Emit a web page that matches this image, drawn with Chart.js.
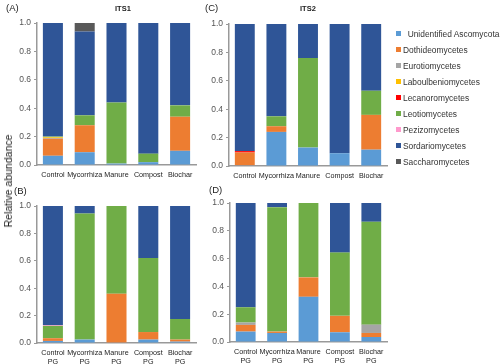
<!DOCTYPE html>
<html>
<head>
<meta charset="utf-8">
<script src="https://cdn.jsdelivr.net/npm/chart.js@4"></script>
<style>
  body { margin: 0; background: #fff; font-family: "Liberation Sans", Arial, sans-serif; }
  #wrap { position: relative; width: 500px; height: 364px; overflow: hidden; }
  .panel { position: absolute; }
  .lbl { position: absolute; font-size: 9.5px; color: #222; }
  .ttl { position: absolute; font-size: 7.5px; font-weight: bold; color: #222; }
  #ytitle { position: absolute; left: 8px; top: 181px; transform: translate(-50%, -50%) rotate(-90deg); font-size: 10.5px; color: #222; white-space: nowrap; }
  #legend { position: absolute; left: 396px; top: 29px; font-size: 8.4px; color: #333; }
  #legend div { height: 16px; line-height: 11px; white-space: nowrap; }
  #legend span { display: inline-block; width: 5px; height: 5px; margin-right: 2px; vertical-align: 1px; }
</style>
</head>
<body>
<div id="wrap">
  <canvas id="cA" class="panel" style="left:0;top:0" width="200" height="190"></canvas>
  <canvas id="cC" class="panel" style="left:195px;top:0" width="195" height="190"></canvas>
  <canvas id="cB" class="panel" style="left:0;top:185px" width="200" height="179"></canvas>
  <canvas id="cD" class="panel" style="left:195px;top:185px" width="195" height="179"></canvas>
  <div class="lbl" style="left:6px;top:2px">(A)</div>
  <div class="lbl" style="left:205px;top:2px">(C)</div>
  <div class="lbl" style="left:14px;top:185px">(B)</div>
  <div class="lbl" style="left:209px;top:184px">(D)</div>
  <div class="ttl" style="left:115px;top:4px">ITS1</div>
  <div class="ttl" style="left:300px;top:4px">ITS2</div>
  <div id="ytitle">Relative abundance</div>
  <div id="legend"></div>
</div>
<script>
// taxonomic classes, bottom of stack first
var classes = ['Unidentified Ascomycota', 'Dothideomycetes', 'Eurotiomycetes', 'Laboulbeniomycetes',
    'Lecanoromycetes', 'Leotiomycetes', 'Pezizomycetes', 'Sordariomycetes', 'Saccharomycetes'];
var colors = ['#5B9BD5', '#ED7D31', '#A5A5A5', '#FFC000', '#FF0000', '#70AD47', '#FF99CC', '#2F5597', '#595959'];

var soilLabels = ['Control', 'Mycorrhiza', 'Manure', 'Compost', 'Biochar'];
var pgLabels = [['Control', 'PG'], ['Mycorrhiza', 'PG'], ['Manure', 'PG'], ['Compost', 'PG'], ['Biochar', 'PG']];
var yTicks = [0, 0.2, 0.4, 0.6, 0.8, 1.0];

// one row per class (same order as classes), one value per treatment
var its1Soil = [
    [0.065, 0.09, 0.01, 0.02, 0.10],
    [0.12, 0.19, 0, 0, 0.24],
    [0.005, 0, 0, 0, 0],
    [0.005, 0, 0, 0, 0],
    [0, 0, 0, 0, 0],
    [0.005, 0.07, 0.43, 0.06, 0.08],
    [0, 0, 0, 0, 0],
    [0.80, 0.59, 0.56, 0.92, 0.58],
    [0, 0.06, 0, 0, 0]
];
var its2Soil = [
    [0.005, 0.24, 0.13, 0.09, 0.115],
    [0.09, 0.04, 0, 0, 0.245],
    [0, 0, 0, 0, 0],
    [0, 0, 0, 0, 0],
    [0.01, 0, 0, 0, 0],
    [0, 0.07, 0.63, 0, 0.17],
    [0, 0, 0, 0, 0],
    [0.895, 0.65, 0.24, 0.91, 0.47],
    [0, 0, 0, 0, 0]
];
var its1PG = [
    [0.015, 0.025, 0.003, 0.025, 0.01],
    [0.02, 0, 0.357, 0.055, 0.015],
    [0, 0, 0, 0, 0],
    [0, 0, 0, 0, 0],
    [0, 0, 0, 0, 0],
    [0.09, 0.92, 0.64, 0.54, 0.15],
    [0.005, 0, 0, 0, 0],
    [0.87, 0.055, 0, 0.38, 0.825],
    [0, 0, 0, 0, 0]
];
var its2PG = [
    [0.075, 0.065, 0.325, 0.07, 0.036],
    [0.048, 0.01, 0.14, 0.118, 0.029],
    [0.017, 0, 0, 0, 0.06],
    [0, 0, 0, 0, 0],
    [0, 0, 0, 0, 0],
    [0.11, 0.895, 0.535, 0.455, 0.74],
    [0, 0, 0, 0, 0],
    [0.75, 0.03, 0, 0.357, 0.135],
    [0, 0, 0, 0, 0]
];

function makePanel(id, labels, rows, yWidth, xHeight, padTop, padRight) {
    var datasets = rows.map(function(vals, i) {
        return {
            label: classes[i],
            data: vals,
            backgroundColor: colors[i],
            borderWidth: 0,
            barPercentage: 0.63,
            categoryPercentage: 1
        };
    });
    return new Chart(document.getElementById(id), {
        type: 'bar',
        data: { labels: labels, datasets: datasets },
        options: {
            responsive: false,
            animation: false,
            layout: { padding: { top: padTop, right: padRight, left: 0, bottom: 0 } },
            plugins: { legend: { display: false }, tooltip: { enabled: false } },
            scales: {
                x: {
                    stacked: true,
                    grid: { display: false, drawTicks: false },
                    border: { display: true, color: '#999', width: 1.5 },
                    ticks: { color: '#222', font: { size: 7.2, family: 'Liberation Sans', lineHeight: 1.3 }, padding: 5, maxRotation: 0, autoSkip: false },
                    afterFit: function(s) { s.height = xHeight; }
                },
                y: {
                    stacked: true,
                    min: 0, max: 1,
                    afterBuildTicks: function(s) { s.ticks = yTicks.map(function(v) { return { value: v }; }); },
                    grid: { display: true, drawOnChartArea: false, drawTicks: true, tickLength: 3, color: '#999' },
                    border: { display: true, color: '#999', width: 1.5 },
                    ticks: {
                        color: '#555', padding: 3, font: { size: 8.5, family: 'Liberation Sans' },
                        callback: function(v) { return Number(v).toFixed(1); }
                    },
                    afterFit: function(s) { s.width = yWidth; }
                }
            }
        }
    });
}

makePanel('cA', soilLabels, its1Soil, 37, 25, 23, 4);
makePanel('cC', soilLabels, its2Soil, 34, 24, 24, 3);
makePanel('cB', pgLabels, its1PG, 37, 21, 21, 4);
makePanel('cD', pgLabels, its2PG, 35, 22, 18, 3);

var legend = document.getElementById('legend');
classes.forEach(function(name, i) {
    var row = document.createElement('div');
    row.innerHTML = '<span style="background:' + colors[i] + '"></span>' + (i === 0 ? '&nbsp; ' : '') + name;
    legend.appendChild(row);
});
</script>
</body>
</html>
